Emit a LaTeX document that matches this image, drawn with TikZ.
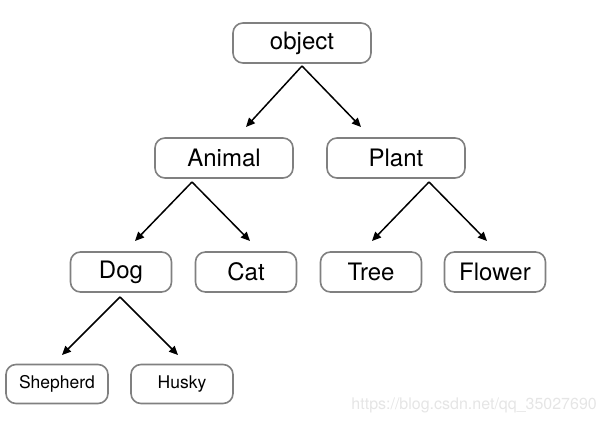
\documentclass[tikz,border=0pt]{standalone}
\usepackage{fontspec}
\setmainfont{TeX Gyre Heros}
\usetikzlibrary{arrows.meta,positioning}
\definecolor{boxgrey}{gray}{0.5}
\definecolor{markgrey}{gray}{0.9}

\begin{document}
\begin{tikzpicture}[x=1pt,y=-1pt]
\tikzstyle{cls}=[draw=boxgrey,line width=1.6pt,rounded corners=10pt,minimum height=40pt,font=\fontsize{24}{28}\selectfont]
\tikzstyle{wide}=[cls,minimum width=138pt]
\tikzstyle{narrow}=[cls,minimum width=101pt]
\tikzstyle{leaf}=[cls,minimum width=102pt,minimum height=39pt,font=\fontsize{17.5}{21}\selectfont]
\tikzstyle{arrow}=[line width=1.5pt,-{Triangle[length=9pt,width=8pt]}]
\useasboundingbox (0,0) rectangle (605,422);

\node [wide] at (302,43) (object) {object};
\node [wide] at (224,158) (animal) {Animal};
\node [wide] at (396,158) (plant) {Plant};
\node [narrow] at (121,272) (dog) {Dog};
\node [narrow] at (246,272) (cat) {Cat};
\node [narrow] at (371,272) (tree) {Tree};
\node [narrow] at (495,272) (flower) {Flower};
\node [leaf] at (57,384) (shepherd) {Shepherd};
\node [leaf] at (182,384) (husky) {Husky};

% split points and arrow tips
\coordinate (object-s) at (302,66);
\coordinate (animal-in) at (246,127);
\coordinate (plant-in) at (361,127);
\coordinate (animal-s) at (192,182);
\coordinate (dog-in) at (135,241);
\coordinate (cat-in) at (250,241);
\coordinate (plant-s) at (429,182);
\coordinate (tree-in) at (372,241);
\coordinate (flower-in) at (487,241);
\coordinate (dog-s) at (120,297);
\coordinate (shepherd-in) at (62,355);
\coordinate (husky-in) at (178,355);

\draw [arrow] (object-s) -- (animal-in);
\draw [arrow] (object-s) -- (plant-in);
\draw [arrow] (animal-s) -- (dog-in);
\draw [arrow] (animal-s) -- (cat-in);
\draw [arrow] (plant-s) -- (tree-in);
\draw [arrow] (plant-s) -- (flower-in);
\draw [arrow] (dog-s) -- (shepherd-in);
\draw [arrow] (dog-s) -- (husky-in);

\node [anchor=east,text=markgrey,font=\fontsize{16}{19}\selectfont,inner sep=0pt] at (597,405) (mark) {https://blog.csdn.net/qq\_35027690};
\end{tikzpicture}
\end{document}
